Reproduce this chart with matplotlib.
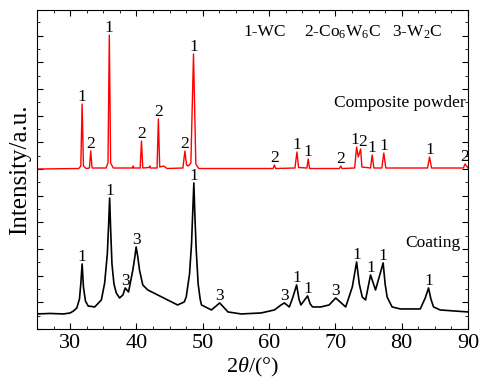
import matplotlib
matplotlib.use("Agg")
import matplotlib.pyplot as plt
from matplotlib.ticker import MultipleLocator

plt.rcParams['font.family'] = ['Liberation Serif', 'DejaVu Serif']
plt.rcParams['mathtext.fontset'] = 'custom'
plt.rcParams['mathtext.rm'] = 'Liberation Serif'
plt.rcParams['mathtext.it'] = 'Liberation Serif:italic'

#
# composite powder pattern (red)
#
powder_x = [25, 31.3, 31.6, 31.8, 32.0, 32.4, 32.9, 33.1, 33.3, 35.4, 35.7, 35.9, 36.1, 36.5,
            39.4, 39.5, 39.6, 40.55, 40.75, 40.95, 41.9, 42.0, 42.1, 43.1, 43.3, 43.5, 44.1, 44.6,
            47.0, 47.3, 47.55, 47.8, 48.2, 48.6, 48.95, 49.4, 60.6, 60.8, 61.0, 63.9, 64.2, 64.45,
            65.7, 65.9, 66.1, 70.6, 70.8, 71.0, 72.9, 73.2, 73.45, 73.8, 74.0, 75.3, 75.55, 75.8,
            77.0, 77.3, 77.6, 83.9, 84.2, 84.5, 89.3, 89.55, 90]
powder_y = [160, 160.5, 163, 225, 163, 160.5, 161, 178, 161, 161, 166, 294, 166, 161,
            161, 163, 161, 161, 188, 161, 161.5, 163, 161, 161, 210, 162, 163, 160.5,
            161, 178, 164, 163, 166, 275, 165, 160.5, 160.5, 164, 160.5, 161, 177, 161.5,
            161, 170, 160.5, 160.5, 163, 160.5, 161, 182, 172, 180, 162, 161, 174, 161,
            161, 176, 161, 161, 172, 161, 161, 165, 161]

#
# coating pattern (black)
#
coat_x = [25, 27, 29, 30.0, 30.5, 31.0, 31.4, 31.6, 31.8, 32.0, 32.3, 32.7, 33.7, 34.7, 35.2,
          35.6, 35.8, 35.95, 36.1, 36.3, 36.6, 36.95, 37.45, 37.95, 38.3, 38.8, 39.45, 39.75,
          39.95, 40.2, 40.45, 40.95, 41.7, 43.2, 44.7, 46.2, 47.2, 47.5, 48.0, 48.3, 48.5, 48.65,
          48.8, 49.0, 49.3, 49.6, 49.8, 51.3, 52.55, 53.8, 55.8, 58.8, 60.8, 61.8, 62.3, 63.05,
          63.55, 64.15, 64.5, 64.8, 65.8, 66.2, 66.55, 67.8, 69.05, 70.05, 71.55, 72.55, 73.2,
          73.6, 74.05, 74.55, 75.3, 76.05, 77.2, 77.5, 77.8, 78.55, 79.8, 82.8, 83.55, 84.05,
          84.4, 84.8, 85.8, 90]
coat_y = [15, 15.5, 15, 16, 18, 21, 30, 45, 65, 42, 28, 23, 22, 29, 46,
          75, 105, 131, 100, 65, 45, 36, 31, 34, 41, 37, 59, 72,
          82, 72, 59, 44, 39, 34, 29, 24, 27, 32, 55, 85, 120, 146,
          115, 80, 45, 30, 24, 19, 26, 17, 15, 16, 19, 24, 26, 22,
          31, 44, 30, 24, 33, 25, 22, 22, 24, 31, 22, 42, 67,
          45, 32, 29, 54, 39, 66, 45, 32, 22, 20, 20, 31, 41,
          30, 22, 19, 17]

# peak markers: position, height, phase number
powder_lab_x = [31.8, 33.1, 35.9, 40.75, 43.3, 47.3, 48.6, 60.8, 64.2, 65.9, 70.8, 72.95, 74.05,
                75.55, 77.3, 84.2, 89.55]
powder_lab_y = [225, 178, 294, 188, 210, 178, 275, 164, 177, 170, 163, 182, 180,
                174, 176, 172, 165]
powder_lab = ['1', '2', '1', '2', '2', '2', '1', '2', '1', '1', '2', '1', '2',
              '1', '1', '1', '2']

coat_lab_x = [31.8, 35.95, 38.3, 40.0, 48.65, 52.55, 62.3, 64.15, 65.8, 70.05, 73.2, 75.3,
              77.2, 84.05]
coat_lab_y = [65, 131, 41, 82, 146, 26, 26, 44, 33, 31, 67, 54, 66, 41]
coat_lab = ['1', '1', '3', '3', '1', '3', '3', '1', '1', '3', '1', '1', '1', '1']

fig = plt.figure(figsize=(4.81, 3.87), dpi=100)
ax = fig.add_axes([0.077, 0.150, 0.896, 0.824])

ax.plot(powder_x, powder_y, color='red', lw=1.0)
ax.plot(coat_x, coat_y, color='black', lw=1.2)

for x, y, s in zip(powder_lab_x, powder_lab_y, powder_lab):
    ax.annotate(s, (x, y), xytext=(0, -1), textcoords='offset points',
                ha='center', va='bottom', fontsize=12.5)
for x, y, s in zip(coat_lab_x, coat_lab_y, coat_lab):
    ax.annotate(s, (x, y), xytext=(0, -1), textcoords='offset points',
                ha='center', va='bottom', fontsize=12.5)

ax.text(56.2, 297, '1-WC', fontsize=12.5, va='center')
ax.text(65.2, 297, '2-Co$_6$W$_6$C', fontsize=12.5, va='center')
ax.text(78.5, 297, '3-W$_2$C', fontsize=12.5, va='center')
ax.text(89.6, 226, 'Composite powder', fontsize=12.5, ha='right', va='center')
ax.text(88.9, 86, 'Coating', fontsize=12.5, ha='right', va='center')

ax.set_xlim(25, 90)
ax.set_ylim(0, 319)
ax.xaxis.set_major_locator(MultipleLocator(10))
ax.xaxis.set_minor_locator(MultipleLocator(2.5))
ax.yaxis.set_major_locator(MultipleLocator(26.67))
ax.yaxis.set_minor_locator(MultipleLocator(13.33))
ax.tick_params(which='both', direction='in', top=True, right=True, labelleft=False)
ax.tick_params(which='major', length=4, labelsize=16)
ax.tick_params(which='minor', length=2)

ax.set_xlabel('2$\\theta$/(°)', fontsize=16, labelpad=2)
ax.set_ylabel('Intensity/a.u.', fontsize=18, labelpad=4)

fig.savefig('out.png', dpi=100)
